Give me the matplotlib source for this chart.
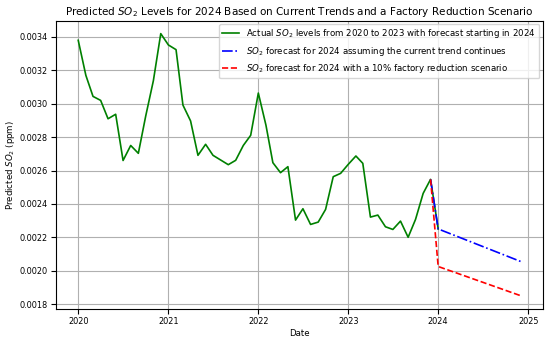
import matplotlib
matplotlib.use('Agg')
import matplotlib.pyplot as plt
import pandas as pd
import numpy as np

# monthly SO2 levels, Jan 2020 - Dec 2023
actual_so2 = [
	0.00338, 0.00317, 0.003044, 0.00302, 0.00291, 0.002937, 0.00266, 0.00275, 0.002703, 0.002927, 0.003138, 0.00342,
	0.003352, 0.003324, 0.002992, 0.002897, 0.002691, 0.002757, 0.002691, 0.002663, 0.002635, 0.002661, 0.00275, 0.002811,
	0.003064, 0.002871, 0.002647, 0.002587, 0.002623, 0.002303, 0.002371, 0.002277, 0.002291, 0.002367, 0.002563, 0.002583,
	0.002637, 0.002687, 0.002643, 0.002321, 0.002333, 0.002263, 0.002247, 0.002297, 0.0022, 0.002307, 0.002463, 0.002547,
]
actual_dates = pd.date_range('2020-01-01', periods=len(actual_so2), freq='MS')

# forecast lines: Dec 2023 -> Jan 2024 -> Dec 2024
forecast_dates = pd.to_datetime(['2023-12-01', '2024-01-01', '2024-12-01'])
trend_forecast = [0.002547, 0.002250, 0.002055]
reduced_forecast = [0.002547, 0.002025, 0.00185]

plt.rcParams['font.family'] = 'DejaVu Sans'

fig, ax = plt.subplots(figsize=(5.5, 3.42), dpi=100)

# actual series continues into the first forecast month
green_x = list(actual_dates) + [forecast_dates[1]]
green_y = actual_so2 + [trend_forecast[1]]
ax.plot(green_x, green_y, color='green', lw=1.2,
	label='Actual $SO_2$ levels from 2020 to 2023 with forecast starting in 2024')
ax.plot(forecast_dates, trend_forecast, color='blue', ls='-.', lw=1.2,
	label='$SO_2$ forecast for 2024 assuming the current trend continues')
ax.plot(forecast_dates, reduced_forecast, color='red', ls='--', lw=1.2,
	label='$SO_2$ forecast for 2024 with a 10% factory reduction scenario')

ax.set_title('Predicted $SO_2$ Levels for 2024 Based on Current Trends and a Factory Reduction Scenario',
	fontsize=7.45, pad=4)
ax.set_xlabel('Date', fontsize=6.2, labelpad=2)
ax.set_ylabel('Predicted $SO_2$ (ppm)', fontsize=6.2, labelpad=2)
ax.tick_params(labelsize=5.9, pad=2.5)
ax.grid(True, color='#b0b0b0', lw=0.8)
ax.legend(loc='upper right', fontsize=6.2, borderaxespad=0.4)

fig.subplots_adjust(left=0.102, right=0.987, top=0.94, bottom=0.097)
fig.savefig('out.png')
